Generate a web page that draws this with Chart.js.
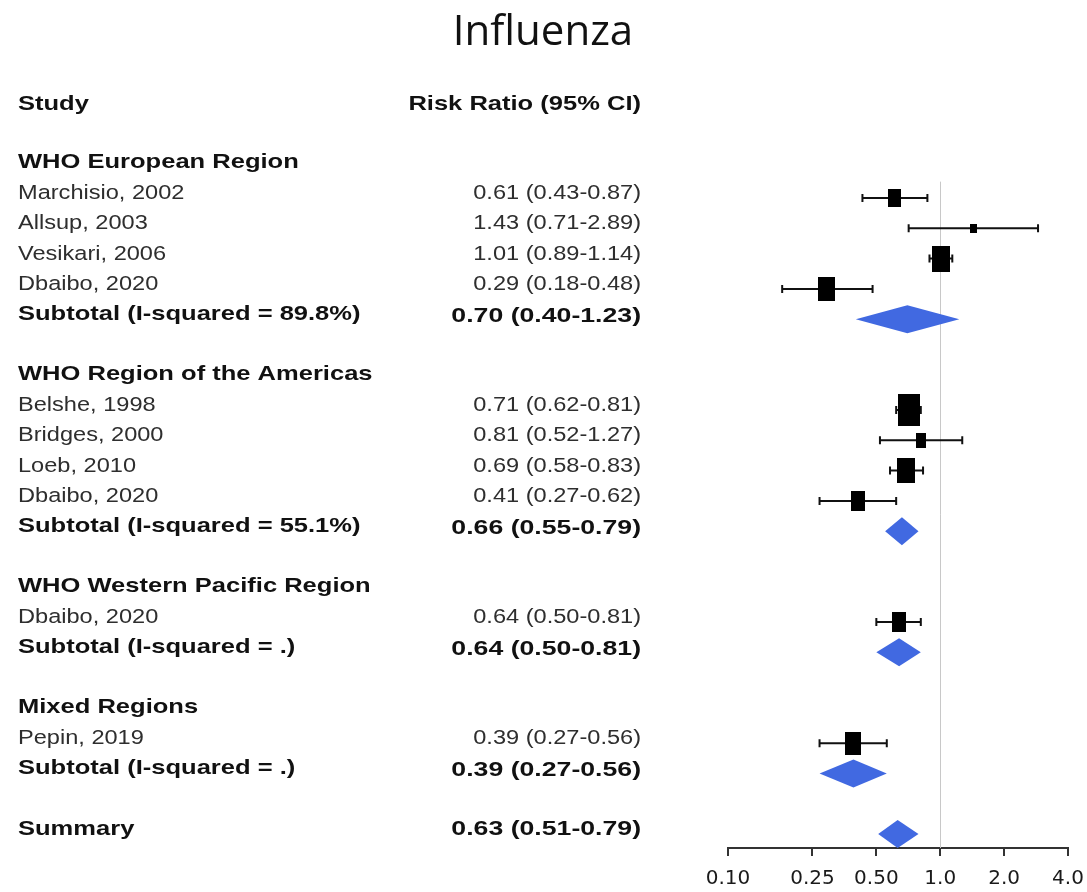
<!DOCTYPE html>
<html>
<head>
<meta charset="utf-8">
<title>Influenza</title>
<script src="https://cdn.jsdelivr.net/npm/chart.js@4.4.1/dist/chart.umd.min.js"></script>
<style>
  body { margin: 0; background: #fff; }
  #wrap { width: 1087px; height: 892px; }
</style>
</head>
<body>
<div id="wrap"><canvas id="forestChart" width="1087" height="892"></canvas></div>
<script>
// data
const chartTitle = "Influenza";
const groupNames = ["WHO European Region", "WHO Region of the Americas", "WHO Western Pacific Region", "Mixed Regions"];
const groupI2 = ["89.8%", "55.1%", ".", "."];
const groupRR = [0.70, 0.66, 0.64, 0.39];
const groupLow = [0.40, 0.55, 0.50, 0.27];
const groupHigh = [1.23, 0.79, 0.81, 0.56];

const studyNames = ["Marchisio, 2002", "Allsup, 2003", "Vesikari, 2006", "Dbaibo, 2020",
    "Belshe, 1998", "Bridges, 2000", "Loeb, 2010", "Dbaibo, 2020",
    "Dbaibo, 2020", "Pepin, 2019"];
const studyGroup = [0, 0, 0, 0, 1, 1, 1, 1, 2, 3];
const studyRR = [0.61, 1.43, 1.01, 0.29, 0.71, 0.81, 0.69, 0.41, 0.64, 0.39];
const studyLow = [0.43, 0.71, 0.89, 0.18, 0.62, 0.52, 0.58, 0.27, 0.50, 0.27];
const studyHigh = [0.87, 2.89, 1.14, 0.48, 0.81, 1.27, 0.83, 0.62, 0.81, 0.56];
const studyWeight = [2.2, 0.6, 4.7, 3.9, 7.0, 1.5, 4.4, 2.9, 2.9, 3.7];

const summaryRR = 0.63;
const summaryLow = 0.51;
const summaryHigh = 0.79;

const xTicks = [0.1, 0.25, 0.5, 1, 2, 4];
const xTickLabels = ["0.10", "0.25", "0.50", "1.0", "2.0", "4.0"];

// one row per text line, blank rows between the regions
const rows = [];
rows.push({ kind: "head" });
rows.push({ kind: "blank" });
groupNames.forEach((g, gi) => {
    rows.push({ kind: "group", label: g });
    studyNames.forEach((n, i) => {
        if (studyGroup[i] === gi) rows.push({ kind: "study", index: i });
    });
    rows.push({ kind: "subtotal", index: gi });
    rows.push({ kind: "blank" });
});
rows.push({ kind: "summary" });

const studyRow = studyNames.map((n, i) => rows.findIndex(r => r.kind === "study" && r.index === i));
const groupRow = groupNames.map((g, gi) => rows.findIndex(r => r.kind === "subtotal" && r.index === gi));
const summaryRow = rows.length - 1;

const fmt = (rr, lo, hi) => rr.toFixed(2) + " (" + lo.toFixed(2) + "-" + hi.toFixed(2) + ")";

// black box, area follows the study weight
function boxImage(weight) {
    const s = 10 * Math.sqrt(weight);
    const c = document.createElement("canvas");
    c.width = Math.max(4, Math.round(s * 0.85));
    c.height = Math.max(5, Math.round(s * 1.2));
    const g = c.getContext("2d");
    g.fillStyle = "#000";
    g.fillRect(0, 0, c.width, c.height);
    return c;
}

function drawText(ctx, text, x, y, bold, align, stretch) {
    ctx.save();
    ctx.font = (bold ? "bold " : "") + "20.5px 'Liberation Sans', Arial, sans-serif";
    ctx.fillStyle = bold ? "#111" : "#2e2e2e";
    ctx.textAlign = align;
    ctx.textBaseline = "alphabetic";
    ctx.translate(x, y);
    ctx.scale(stretch, 1);
    ctx.fillText(text, 0, 0);
    ctx.restore();
}

const forestPlugin = {
    id: "forest",
    beforeDatasetsDraw(chart) {
        const { ctx, scales: { x, y }, chartArea } = chart;
        // line of no effect
        ctx.save();
        ctx.strokeStyle = "#c8c8c8";
        ctx.lineWidth = 1;
        const x1 = Math.round(x.getPixelForValue(1)) + 0.5;
        ctx.beginPath();
        ctx.moveTo(x1, y.getPixelForValue(2.46));
        ctx.lineTo(x1, chartArea.bottom);
        ctx.stroke();

        // confidence intervals
        ctx.strokeStyle = "#111";
        ctx.lineWidth = 2;
        studyRR.forEach((rr, i) => {
            const py = y.getPixelForValue(studyRow[i]);
            const a = x.getPixelForValue(studyLow[i]);
            const b = x.getPixelForValue(studyHigh[i]);
            ctx.beginPath();
            ctx.moveTo(a, py);
            ctx.lineTo(b, py);
            ctx.moveTo(a, py - 4);
            ctx.lineTo(a, py + 4);
            ctx.moveTo(b, py - 4);
            ctx.lineTo(b, py + 4);
            ctx.stroke();
        });
        ctx.restore();
    },
    afterDatasetsDraw(chart) {
        const { ctx, scales: { x, y } } = chart;
        const diamond = (rr, lo, hi, row) => {
            const py = y.getPixelForValue(row);
            ctx.beginPath();
            ctx.moveTo(x.getPixelForValue(lo), py);
            ctx.lineTo(x.getPixelForValue(rr), py - 14);
            ctx.lineTo(x.getPixelForValue(hi), py);
            ctx.lineTo(x.getPixelForValue(rr), py + 14);
            ctx.closePath();
            ctx.fill();
        };
        ctx.save();
        ctx.fillStyle = "#4169e1";
        groupRR.forEach((rr, gi) => diamond(rr, groupLow[gi], groupHigh[gi], groupRow[gi]));
        diamond(summaryRR, summaryLow, summaryHigh, summaryRow);
        ctx.restore();
    },
    afterDraw(chart) {
        const { ctx, scales: { y } } = chart;
        const nameX = 18;
        const valX = 641;
        const boldText = 1.245;
        const boldNum = 1.3;
        const plain = 1.15;

        rows.forEach((r, ri) => {
            const py = y.getPixelForValue(ri) + 1;
            if (r.kind === "head") {
                drawText(ctx, "Study", nameX, py + 2, true, "left", boldText);
                drawText(ctx, "Risk Ratio (95% CI)", valX, py + 2, true, "right", boldText);
            } else if (r.kind === "group") {
                drawText(ctx, r.label, nameX, py - 1, true, "left", boldText);
            } else if (r.kind === "study") {
                const i = r.index;
                drawText(ctx, studyNames[i], nameX, py, false, "left", plain);
                drawText(ctx, fmt(studyRR[i], studyLow[i], studyHigh[i]), valX, py, false, "right", plain);
            } else if (r.kind === "subtotal") {
                const gi = r.index;
                drawText(ctx, "Subtotal (I-squared = " + groupI2[gi] + ")", nameX, py, true, "left", boldText);
                drawText(ctx, fmt(groupRR[gi], groupLow[gi], groupHigh[gi]), valX, py + 2, true, "right", boldNum);
            } else if (r.kind === "summary") {
                drawText(ctx, "Summary", nameX, py, true, "left", boldText);
                drawText(ctx, fmt(summaryRR, summaryLow, summaryHigh), valX, py, true, "right", boldNum);
            }
        });

        // title
        ctx.save();
        ctx.font = "400 42px 'Open Sans', sans-serif";
        ctx.fillStyle = "#111";
        ctx.textAlign = "center";
        ctx.textBaseline = "alphabetic";
        ctx.fillText(chartTitle, 543, 45);
        ctx.restore();
    }
};

const ctx = document.getElementById("forestChart");

new Chart(ctx, {
    type: "scatter",
    data: {
        datasets: [{
            label: "Studies",
            data: studyRR.map((rr, i) => ({ x: rr, y: studyRow[i] })),
            pointStyle: studyWeight.map(w => boxImage(w)),
            backgroundColor: "#000",
            borderColor: "#000"
        }]
    },
    options: {
        responsive: false,
        animation: false,
        layout: {
            padding: { left: 728, right: 19, top: 92, bottom: 0 }
        },
        plugins: {
            legend: { display: false },
            tooltip: { enabled: false },
            title: { display: false }
        },
        scales: {
            x: {
                type: "logarithmic",
                min: 0.1,
                max: 4,
                afterBuildTicks: (axis) => {
                    axis.ticks = xTicks.map(v => ({ value: v }));
                },
                afterFit: (axis) => {
                    axis.height = 44;
                    axis.paddingLeft = 0;
                    axis.paddingRight = 0;
                },
                ticks: {
                    autoSkip: false,
                    maxRotation: 0,
                    padding: 11,
                    color: "#1a1a1a",
                    font: { family: "'DejaVu Sans', sans-serif", size: 20 },
                    callback: (value, index) => xTickLabels[index]
                },
                grid: {
                    drawOnChartArea: false,
                    drawTicks: true,
                    tickLength: 8,
                    color: "#333",
                    lineWidth: 2
                },
                border: { display: true, color: "#333", width: 2 }
            },
            y: {
                type: "linear",
                reverse: true,
                min: -0.5,
                max: 24.46,
                display: false
            }
        }
    },
    plugins: [forestPlugin]
});
</script>
</body>
</html>
